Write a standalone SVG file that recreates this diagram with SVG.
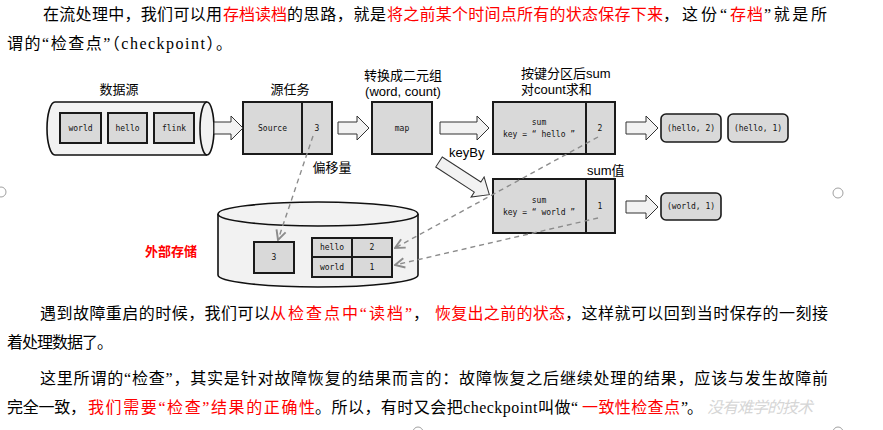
<svg xmlns="http://www.w3.org/2000/svg" width="883" height="430" viewBox="0 0 883 430">
<style>
.t{font-family:"Liberation Serif","Noto Sans CJK SC",serif;font-size:16px;fill:#000}
.r{fill:#ff0000}
.lbl{font-family:"Liberation Sans","Noto Sans CJK SC",sans-serif;font-size:13px;fill:#000}
.mono{font-family:"DejaVu Sans Mono",monospace;font-size:8px;fill:#111;text-anchor:middle}
.box{fill:#d9d9d9;stroke:#1a1a1a;stroke-width:2}
.rbox{fill:#d9d9d9;stroke:#1a1a1a;stroke-width:1.6}
.arrow{fill:#f2f2f2;stroke:#333;stroke-width:1}
.cyl{fill:#f2f2f2;stroke:#111;stroke-width:1.6}
.dash{fill:none;stroke:#8c8c8c;stroke-width:1.4;stroke-dasharray:5,4}
.handle{fill:#fff;stroke:#a0a0a0;stroke-width:1}
</style>
<defs>
<marker id="chev" viewBox="0 0 10 10" refX="9" refY="5" markerWidth="12" markerHeight="12" markerUnits="userSpaceOnUse" orient="auto">
<path d="M1,1 L9,5 L1,9" fill="none" stroke="#8c8c8c" stroke-width="1.6"/>
</marker>
</defs>

<rect width="883" height="430" fill="#fff"/>

<!-- paragraph text -->
<g id="text-top">
<text class="t" x="43" y="20" textLength="179" lengthAdjust="spacing">在流处理中，我们可以用</text>
<text class="t r" x="223" y="20" textLength="64" lengthAdjust="spacing">存档读档</text>
<text class="t" x="287" y="20" textLength="99" lengthAdjust="spacing">的思路，就是</text>
<text class="t r" x="387" y="20" textLength="276" lengthAdjust="spacing">将之前某个时间点所有的状态保存下来</text>
<text class="t" x="663" y="20" textLength="64" lengthAdjust="spacing">，这份“</text>
<text class="t r" x="730" y="20" textLength="33" lengthAdjust="spacing">存档</text>
<text class="t" x="764" y="20" textLength="63" lengthAdjust="spacing">”就是所</text>
<text class="t" x="7" y="49" textLength="225" lengthAdjust="spacing">谓的“检查点”（checkpoint）。</text>
</g>

<g id="text-bottom">
<text class="t" x="40" y="319" textLength="230" lengthAdjust="spacing">遇到故障重启的时候，我们可以</text>
<text class="t r" x="270" y="319" textLength="142" lengthAdjust="spacing">从检查点中“读档”</text>
<text class="t" x="413" y="319">，</text>
<text class="t r" x="435" y="319" textLength="130" lengthAdjust="spacing">恢复出之前的状态</text>
<text class="t" x="565" y="319" textLength="263" lengthAdjust="spacing">，这样就可以回到当时保存的一刻接</text>
<text class="t" x="7" y="348" textLength="106" lengthAdjust="spacing">着处理数据了。</text>
<text class="t" x="40" y="384" textLength="788" lengthAdjust="spacing">这里所谓的“检查”，其实是针对故障恢复的结果而言的：故障恢复之后继续处理的结果，应该与发生故障前</text>
<text class="t" x="7" y="413" textLength="79" lengthAdjust="spacing">完全一致，</text>
<text class="t r" x="88" y="413" textLength="227" lengthAdjust="spacing">我们需要“检查”结果的正确性</text>
<text class="t" x="315" y="413" textLength="263" lengthAdjust="spacing">。所以，有时又会把checkpoint叫做“</text>
<text class="t" x="707" y="413" font-style="italic" style="fill:#d6d6d6" textLength="106" lengthAdjust="spacing">没有难学的技术</text>
<text class="t r" x="582" y="413" textLength="98" lengthAdjust="spacing">一致性检查点</text>
<text class="t" x="681" y="413" textLength="22" lengthAdjust="spacing">”。</text>
</g>

<!-- diagram labels -->
<g id="labels">
<text class="lbl" x="119" y="94" text-anchor="middle">数据源</text>
<text class="lbl" x="290" y="94" text-anchor="middle">源任务</text>
<text class="lbl" x="403" y="80" text-anchor="middle">转换成二元组</text>
<text class="lbl" x="403" y="96" text-anchor="middle">(word, count)</text>
<text class="lbl" x="521" y="78">按键分区后sum</text>
<text class="lbl" x="521" y="94">对count求和</text>
<text class="lbl" x="449" y="157">keyBy</text>
<text class="lbl" x="587" y="175">sum值</text>
<text class="lbl" x="332" y="172" text-anchor="middle">偏移量</text>
<text class="lbl" x="145" y="256" font-weight="bold" style="fill:#ff0000">外部存储</text>
</g>

<!-- data source cylinder -->
<g id="source-cylinder">
<path class="cyl" d="M207,102 H55 A8,26.5 0 0 0 55,155 H207"/>
<ellipse class="cyl" cx="207" cy="128.5" rx="7" ry="26.5"/>
<rect class="box" x="60" y="113" width="41" height="30"/>
<text class="mono" x="80.5" y="131">world</text>
<rect class="box" x="108" y="113" width="39" height="30"/>
<text class="mono" x="127.5" y="131">hello</text>
<rect class="box" x="154" y="113" width="40" height="30"/>
<text class="mono" x="174" y="131">flink</text>
</g>

<g id="source-task">
<rect class="box" x="243" y="102" width="89" height="52"/>
<line x1="302" y1="102" x2="302" y2="154" stroke="#1a1a1a" stroke-width="2"/>
<text class="mono" x="272.5" y="131">Source</text>
<text class="mono" x="317" y="131">3</text>
</g>

<g id="map">
<rect class="box" x="372" y="102" width="60" height="52"/>
<text class="mono" x="402" y="131">map</text>
</g>

<g id="sum-hello">
<rect class="box" x="493" y="102" width="122" height="52"/>
<line x1="586" y1="102" x2="586" y2="154" stroke="#1a1a1a" stroke-width="2"/>
<text class="mono" x="539" y="125">sum</text>
<text class="mono" x="539" y="137">key = “ hello ”</text>
<text class="mono" x="600" y="131">2</text>
</g>

<g id="sum-world">
<rect class="box" x="493" y="179" width="122" height="54"/>
<line x1="586" y1="179" x2="586" y2="233" stroke="#1a1a1a" stroke-width="2"/>
<text class="mono" x="539" y="203">sum</text>
<text class="mono" x="539" y="215">key = “ world ”</text>
<text class="mono" x="600" y="209">1</text>
</g>

<g id="out-hello-2">
<rect class="rbox" x="661" y="114" width="60" height="28" rx="5"/>
<text class="mono" x="691" y="131">(hello, 2)</text>
</g>
<g id="out-hello-1">
<rect class="rbox" x="728" y="114" width="60" height="28" rx="5"/>
<text class="mono" x="758" y="131">(hello, 1)</text>
</g>
<g id="out-world-1">
<rect class="rbox" x="661" y="193" width="60" height="27" rx="5"/>
<text class="mono" x="691" y="209">(world, 1)</text>
</g>

<!-- external storage -->
<g id="storage">
<path class="cyl" d="M218,214 V275 A100,12 0 0 0 418,275 V214"/>
<ellipse class="cyl" cx="318" cy="214" rx="100" ry="12"/>
<rect class="box" x="254" y="242" width="40" height="31"/>
<text class="mono" x="274" y="260">3</text>
<rect class="box" x="312" y="238" width="80" height="39"/>
<line x1="312" y1="257" x2="392" y2="257" stroke="#1a1a1a" stroke-width="2"/>
<line x1="352" y1="238" x2="352" y2="277" stroke="#1a1a1a" stroke-width="2"/>
<text class="mono" x="332" y="250">hello</text>
<text class="mono" x="372" y="250">2</text>
<text class="mono" x="332" y="270">world</text>
<text class="mono" x="372" y="270">1</text>
</g>

<!-- connectors -->
<g id="connectors">
<line class="dash" x1="313" y1="136" x2="278" y2="240" marker-end="url(#chev)"/>
<line class="dash" x1="598" y1="137" x2="395" y2="248" marker-end="url(#chev)"/>
<line class="dash" x1="598" y1="218" x2="395" y2="265" marker-end="url(#chev)"/>
<path class="arrow" d="M214,122 H231 V116 L243,128 L231,140 V134 H214 Z"/>
<path class="arrow" d="M338,122 H357 V116 L369,128 L357,140 V134 H338 Z"/>
<path class="arrow" d="M440,122 H477 V116 L489,128 L477,140 V134 H440 Z"/>
<path class="arrow" d="M626,122 H646 V116 L658,128 L646,140 V134 H626 Z"/>
<path class="arrow" d="M626,201 H646 V195 L658,207 L646,219 V213 H626 Z"/>
<path class="arrow" transform="translate(439,162) rotate(33)" d="M0,-6 H46 V-12 L60,0 L46,12 V6 H0 Z"/>
</g>

<!-- selection handles -->
<circle class="handle" cx="1" cy="192" r="5"/>
<circle class="handle" cx="838" cy="193" r="5"/>
<circle class="handle" cx="418" cy="432" r="5"/>
<circle class="handle" cx="838" cy="432" r="5"/>
</svg>
